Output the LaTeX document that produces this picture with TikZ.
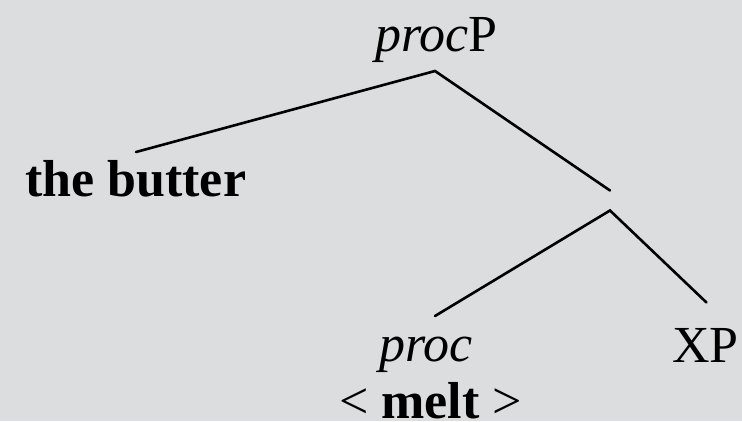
\documentclass[tikz,border=0pt]{standalone}
\usepackage{fontspec}
\setmainfont{Liberation Serif}
\definecolor{bg}{RGB}{220,221,223}
\begin{document}
\begin{tikzpicture}[x=1pt,y=-1pt,
  lab/.style={inner sep=0pt,anchor=base west,font=\fontsize{52}{60}\selectfont},
  branch/.style={line width=2.6pt,line cap=round}]
\fill[bg] (0,0) rectangle (742,421);
\useasboundingbox (0,0) rectangle (742,421);
\node[lab] (procP) at (375,51.7) {\textit{proc}P};
\node[lab] (butter) at (25,196.7) {\textbf{the butter}};
\node[lab] (proc) at (379,361.7) {\textit{proc}};
\node[lab] (melt) at (339,418) {< \textbf{melt} >};
\node[lab] (XP) at (672,362) {XP};
\coordinate (top) at (435,71);
\coordinate (lend) at (136,152);
\coordinate (rend) at (610,190.5);
\coordinate (mid) at (610,210.5);
\coordinate (pend) at (435,316);
\coordinate (xend) at (706.5,302.5);
\draw[branch] (lend) -- (top) -- (rend);
\draw[branch] (pend) -- (mid) -- (xend);
\end{tikzpicture}
\end{document}
